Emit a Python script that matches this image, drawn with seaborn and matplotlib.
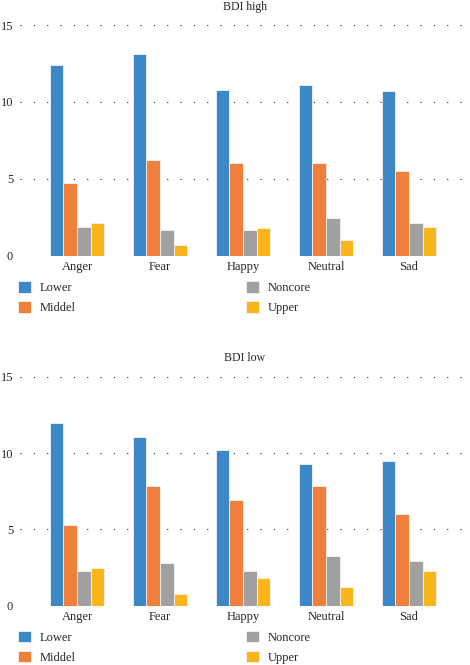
import pandas as pd
import matplotlib
matplotlib.use("Agg")
import matplotlib.pyplot as plt
import seaborn as sns

emotions = ["Anger", "Fear", "Happy", "Neutral", "Sad"]
groups = ["Lower", "Middel", "Noncore", "Upper"]
colors = ["#3C87C8", "#F07F3C", "#A0A0A0", "#FAB51C"]

high_lower = [12.4, 13.1, 10.75, 11.1, 10.7]
high_middel = [4.7, 6.2, 6.0, 6.0, 5.5]
high_noncore = [1.85, 1.7, 1.65, 2.45, 2.1]
high_upper = [2.1, 0.7, 1.8, 1.0, 1.85]

low_lower = [12.0, 11.05, 10.2, 9.25, 9.5]
low_middel = [5.3, 7.85, 6.95, 7.85, 6.0]
low_noncore = [2.25, 2.8, 2.25, 3.25, 2.9]
low_upper = [2.5, 0.75, 1.8, 1.2, 2.25]


def to_long(series):
    rows = []
    for grp, vals in zip(groups, series):
        for emo, v in zip(emotions, vals):
            rows.append({"Emotion": emo, "Group": grp, "Value": v})
    return pd.DataFrame(rows)


df_high = to_long([high_lower, high_middel, high_noncore, high_upper])
df_low = to_long([low_lower, low_middel, low_noncore, low_upper])

sns.set_style("white")
plt.rcParams["font.family"] = ["Liberation Serif", "DejaVu Serif"]

fig = plt.figure(figsize=(4.7, 6.65), dpi=100)
ax_high = fig.add_axes([0.0426, 0.6155, 0.9574, 0.3469])
ax_low = fig.add_axes([0.0426, 0.0892, 0.9574, 0.3443])


def draw(ax, df, title):
    sns.barplot(data=df, x="Emotion", y="Value", hue="Group", order=emotions,
                hue_order=groups, palette=colors, saturation=1, width=0.66,
                ax=ax, edgecolor="#f4f4f4", linewidth=0.6, errorbar=None)
    ax.set_xlim(-0.687, 4.735)
    ax.set_ylim(0, 15)
    ax.set_yticks([0, 5, 10, 15])
    ax.set_xlabel("")
    ax.set_ylabel("")
    for s in ax.spines.values():
        s.set_visible(False)
    ax.set_axisbelow(True)
    ax.yaxis.grid(True, linestyle=(0, (1, 11)), color="#222222", linewidth=0.8)
    ax.tick_params(axis="y", length=0, pad=5, labelsize=9)
    ax.tick_params(axis="x", length=0, pad=4, labelsize=9)
    ax.set_title(title, fontsize=8.5, pad=11)
    ax.legend(loc="upper left", bbox_to_anchor=(-0.005, -0.11), ncol=2,
              frameon=False, fontsize=9, handlelength=1.05, handleheight=1.05,
              handletextpad=0.7, labelspacing=0.55, columnspacing=13.6,
              borderaxespad=0, borderpad=0)


draw(ax_high, df_high, "BDI high")
draw(ax_low, df_low, "BDI low")

fig.savefig("out.png", dpi=100)
